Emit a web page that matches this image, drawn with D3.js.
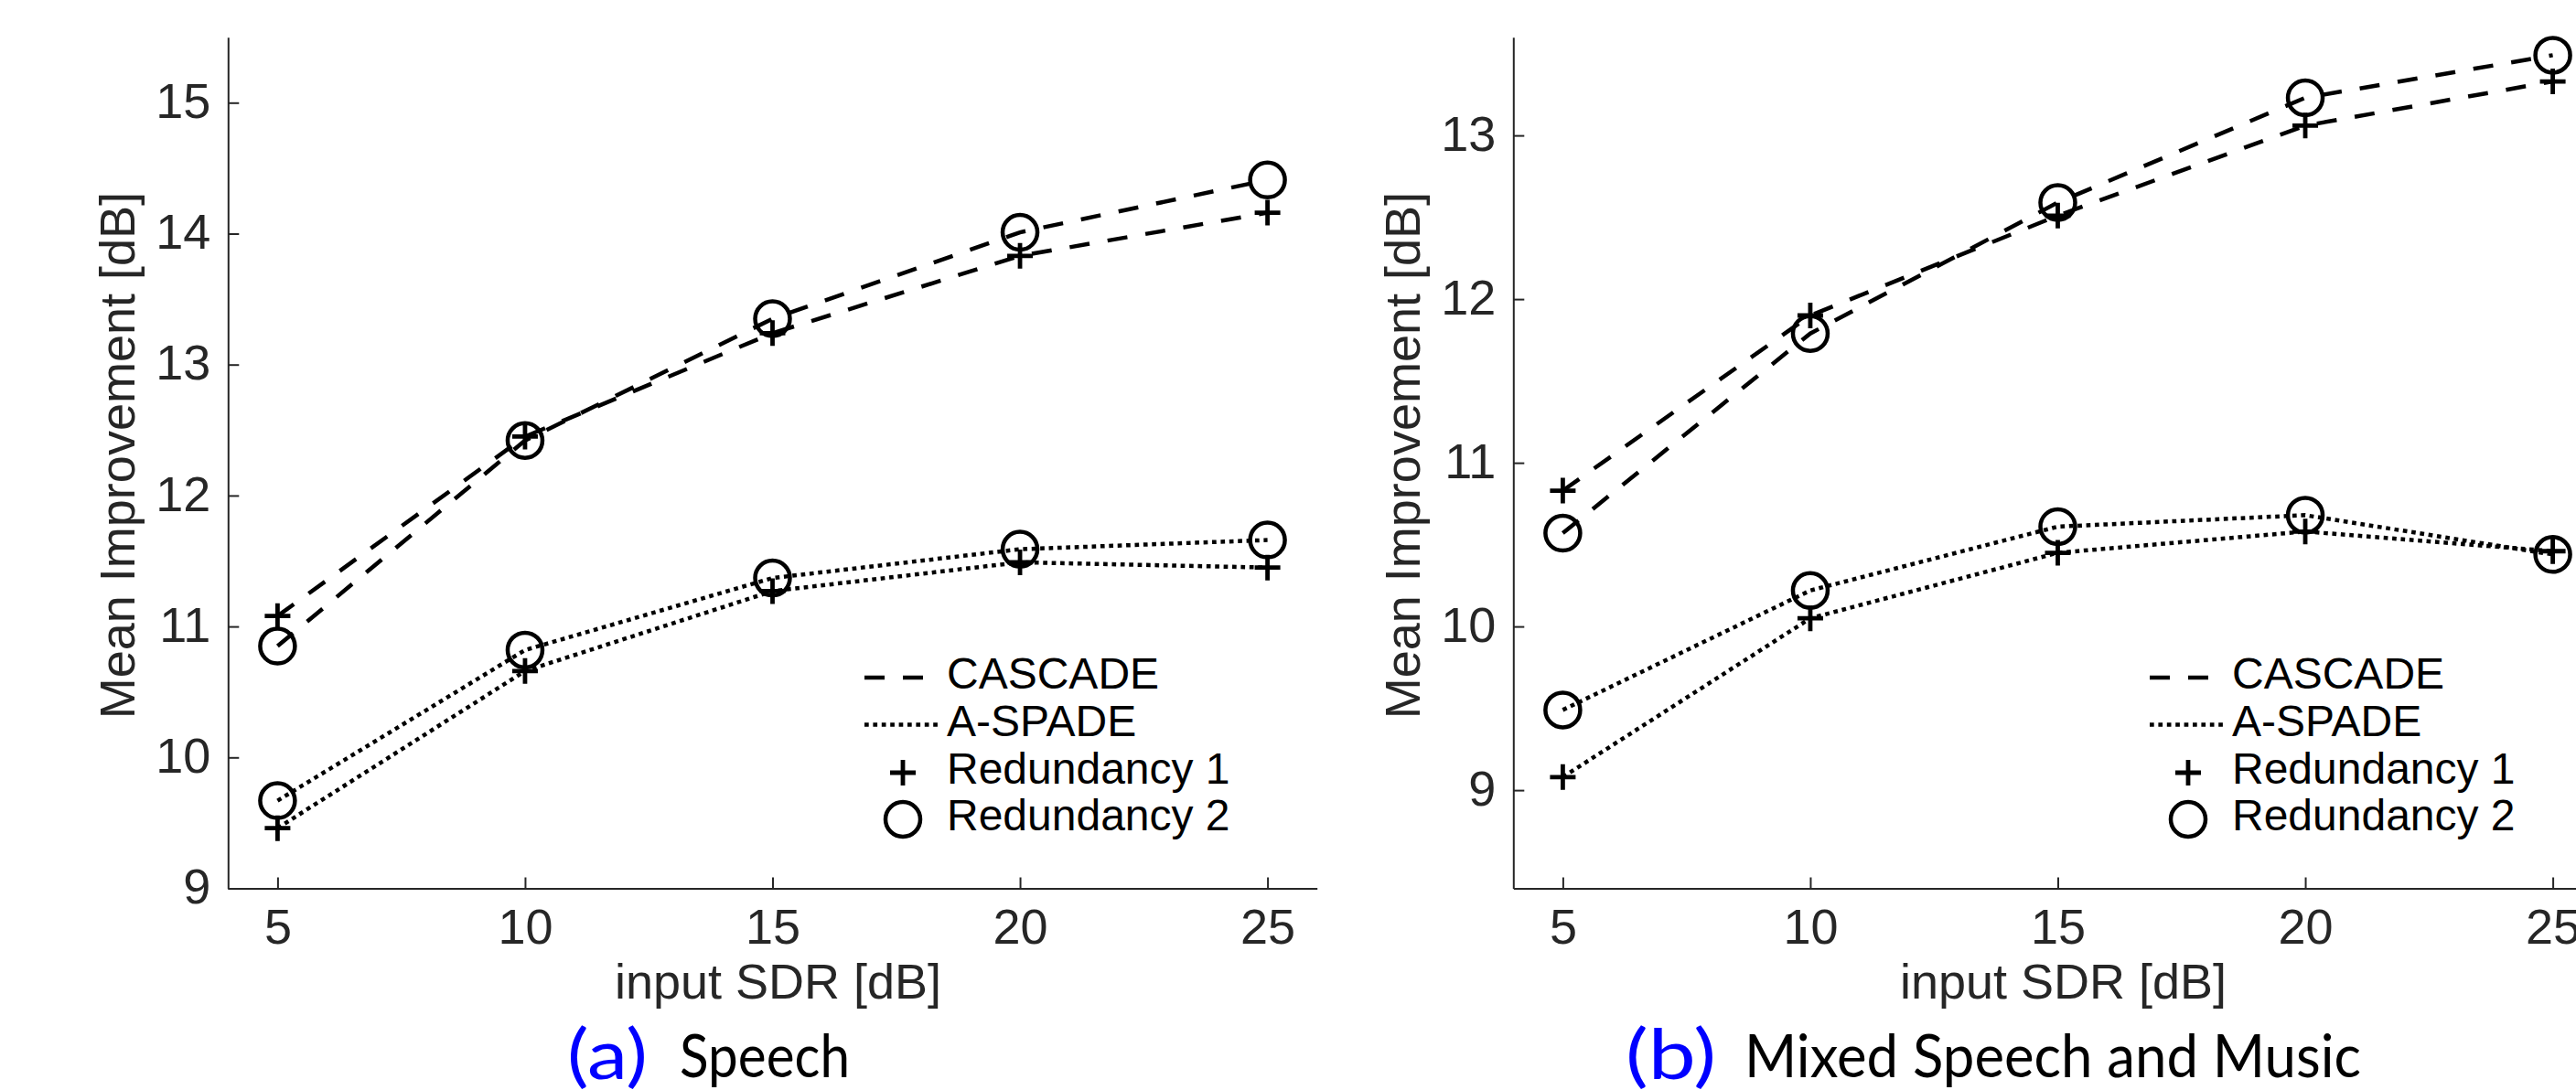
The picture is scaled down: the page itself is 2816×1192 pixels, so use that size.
<!DOCTYPE html>
<html>
<head>
<meta charset="utf-8">
<script src="https://cdn.jsdelivr.net/npm/d3@7"></script>
<style>
  html, body { margin: 0; padding: 0; background: #ffffff; }
  svg { display: block; }
</style>
</head>
<body>
<div id="chart"></div>
<script>
// ---------------- data ----------------
const xValues = [5, 10, 15, 20, 25];
const xTicks = [5, 10, 15, 20, 25];

const speechCascadeR1 = [11.08, 12.45, 13.24, 13.83, 14.16];
const speechCascadeR2 = [10.85, 12.42, 13.35, 14.01, 14.41];
const speechAspadeR1  = [9.46, 10.66, 11.27, 11.49, 11.45];
const speechAspadeR2  = [9.67, 10.82, 11.37, 11.59, 11.66];
const speechYTicks = [9, 10, 11, 12, 13, 14, 15];

const mixCascadeR1 = [10.83, 11.90, 12.51, 13.06, 13.33];
const mixCascadeR2 = [10.57, 11.79, 12.59, 13.23, 13.49];
const mixAspadeR1  = [9.08, 10.05, 10.45, 10.58, 10.46];
const mixAspadeR2  = [9.49, 10.22, 10.61, 10.68, 10.44];
const mixYTicks = [9, 10, 11, 12, 13];

const legendLabels = ["CASCADE", "A-SPADE", "Redundancy 1", "Redundancy 2"];
const xLabel = "input SDR [dB]";
const yLabel = "Mean Improvement [dB]";

// ---------------- layout ----------------
const W = 2816, H = 1192;
const svg = d3.select("#chart").append("svg").attr("width", W).attr("height", H);

const axisColor = "#262626";
const tickFont = "'Liberation Sans', Arial, Helvetica, sans-serif";
const capFont = "Lato, 'Noto Sans', sans-serif";
const DASH = "22,20";
const DOT = "4.7,4.7";
const fmt = d3.format("d");

const panels = [
  {
    left: 249.3, right: 1439.7, top: 40.7, bottom: 971.5,
    xDomain: [4, 26], yDomain: [9, 15.5], yTicks: speechYTicks,
    series: [
      { v: speechCascadeR1, dash: DASH, marker: "plus" },
      { v: speechCascadeR2, dash: DASH, marker: "circle" },
      { v: speechAspadeR1, dash: DOT, marker: "plus" },
      { v: speechAspadeR2, dash: DOT, marker: "circle" }
    ],
    capLetter: "(a)", capText: "Speech",
    capLetterX: 620, capLetterW: 88, capTextX: 743, capTextW: 186
  },
  {
    left: 1654.3, right: 2844.7, top: 40.7, bottom: 971.5,
    xDomain: [4, 26], yDomain: [8.4, 13.6], yTicks: mixYTicks,
    series: [
      { v: mixCascadeR1, dash: DASH, marker: "plus" },
      { v: mixCascadeR2, dash: DASH, marker: "circle" },
      { v: mixAspadeR1, dash: DOT, marker: "plus" },
      { v: mixAspadeR2, dash: DOT, marker: "circle" }
    ],
    capLetter: "(b)", capText: "Mixed Speech and Music",
    capLetterX: 1777, capLetterW: 99, capTextX: 1907, capTextW: 674
  }
];

function drawMarker(g, type, cx, cy) {
  if (type === "circle") {
    g.append("circle").attr("cx", cx).attr("cy", cy).attr("r", 19)
      .attr("fill", "none").attr("stroke", "#000").attr("stroke-width", 4.5);
  } else {
    const s = 14;
    g.append("path")
      .attr("d", `M${cx - s},${cy}H${cx + s}M${cx},${cy - s}V${cy + s}`)
      .attr("fill", "none").attr("stroke", "#000").attr("stroke-width", 4.8);
  }
}

panels.forEach(p => {
  const x = d3.scaleLinear().domain(p.xDomain).range([p.left, p.right]);
  const y = d3.scaleLinear().domain(p.yDomain).range([p.bottom, p.top]);
  const g = svg.append("g");

  // x axis
  const xAxis = d3.axisBottom(x).tickValues(xTicks).tickFormat(fmt)
    .tickSizeInner(-12).tickSizeOuter(0).tickPadding(0);
  const gx = g.append("g").attr("transform", `translate(0,${p.bottom})`).call(xAxis);
  gx.select(".domain").attr("stroke", axisColor).attr("stroke-width", 2);
  gx.selectAll(".tick line").attr("stroke", axisColor).attr("stroke-width", 2);
  gx.selectAll(".tick text").attr("fill", axisColor)
    .style("font-family", tickFont).style("font-size", "54px")
    .attr("y", 60).attr("dy", null);

  // y axis
  const yAxis = d3.axisLeft(y).tickValues(p.yTicks).tickFormat(fmt)
    .tickSizeInner(-12).tickSizeOuter(0).tickPadding(0);
  const gy = g.append("g").attr("transform", `translate(${p.left},0)`).call(yAxis);
  gy.select(".domain").attr("stroke", axisColor).attr("stroke-width", 2);
  gy.selectAll(".tick line").attr("stroke", axisColor).attr("stroke-width", 2);
  gy.selectAll(".tick text").attr("fill", axisColor)
    .style("font-family", tickFont).style("font-size", "54px")
    .attr("x", -19).attr("dy", "0.3em");

  // axis labels
  g.append("text").attr("x", (p.left + p.right) / 2 + 6).attr("y", 1091.7)
    .attr("text-anchor", "middle").attr("fill", axisColor)
    .style("font-family", tickFont).style("font-size", "54px").text(xLabel);
  g.append("text")
    .attr("transform", `translate(${p.left - 102},${(p.top + p.bottom) / 2 - 8}) rotate(-90)`)
    .attr("text-anchor", "middle").attr("fill", axisColor)
    .style("font-family", tickFont).style("font-size", "54px").text(yLabel);

  // series
  const line = d3.line().x((d, i) => x(xValues[i])).y(d => y(d));
  p.series.forEach(s => {
    g.append("path").datum(s.v).attr("d", line)
      .attr("fill", "none").attr("stroke", "#000").attr("stroke-width", 4.5)
      .attr("stroke-dasharray", s.dash);
    s.v.forEach((v, i) => drawMarker(g, s.marker, x(xValues[i]), y(v)));
  });

  // legend
  const lx = p.left + 695.7;
  const textX = p.left + 785.7;
  const rows = [741, 792.5, 845, 896];
  const lg = g.append("g");
  lg.append("line").attr("x1", lx).attr("x2", lx + 64).attr("y1", rows[0]).attr("y2", rows[0])
    .attr("stroke", "#000").attr("stroke-width", 4.5).attr("stroke-dasharray", DASH);
  lg.append("line").attr("x1", lx).attr("x2", lx + 80).attr("y1", rows[1]).attr("y2", rows[1])
    .attr("stroke", "#000").attr("stroke-width", 4.5).attr("stroke-dasharray", DOT);
  drawMarker(lg, "plus", p.left + 737.7, rows[2]);
  drawMarker(lg, "circle", p.left + 737.7, rows[3]);
  legendLabels.forEach((t, i) => {
    lg.append("text").attr("x", textX).attr("y", rows[i] + 12)
      .attr("fill", "#000").style("font-family", tickFont).style("font-size", "48px").text(t);
  });

  // caption
  svg.append("text").attr("x", p.capLetterX).attr("y", 1180)
    .attr("textLength", p.capLetterW).attr("lengthAdjust", "spacingAndGlyphs")
    .attr("fill", "#0000ff").style("font-family", capFont).style("font-size", "76px")
    .text(p.capLetter);
  svg.append("text").attr("x", p.capTextX).attr("y", 1178)
    .attr("textLength", p.capTextW).attr("lengthAdjust", "spacingAndGlyphs")
    .attr("fill", "#000").style("font-family", capFont).style("font-size", "66px")
    .text(p.capText);
});
</script>
</body>
</html>
